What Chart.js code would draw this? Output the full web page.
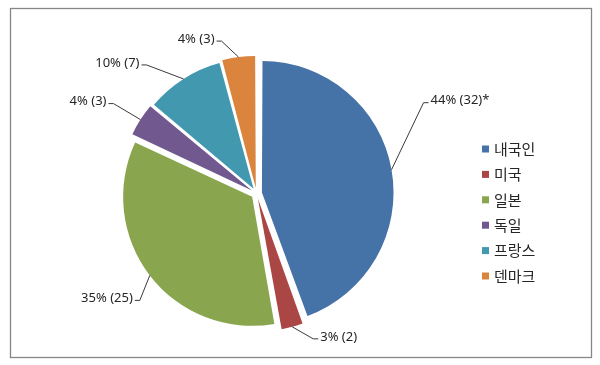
<!DOCTYPE html>
<html>
<head>
<meta charset="utf-8">
<script src="https://cdn.jsdelivr.net/npm/chart.js@4/dist/chart.umd.min.js"></script>
<style>
  html, body { margin: 0; padding: 0; background: #ffffff; }
  #wrap { width: 600px; height: 365px; }
</style>
</head>
<body>
<div id="wrap"><canvas id="c" width="600" height="365"></canvas></div>
<script>
// ---- data ----
const categories = ['내국인', '미국', '일본', '독일', '프랑스', '덴마크'];
const counts = [32, 2, 25, 3, 7, 3];
const notes = ['*', '', '', '', '', ''];
const colors = ['#4572A7', '#AA4643', '#89A54E', '#71588F', '#4198AF', '#DB843D'];

// ---- layout (label leader elbows relative to slice edge) ----
const leaderOffsets = [[32, -67], [21, 12], [-10, 25], [-27, -16], [-37, -14], [-17, -16]];
const sliceOffset = 22;    // chart.js v4 arc offset (translation = offset / 4)

function arcShift(circ) {
  const fix = 1 - Math.sin(Math.min(Math.PI, circ || 0));
  return 1 + fix;
}

const total = counts.reduce((a, b) => a + b, 0);

const framePlugin = {
  id: 'frame',
  beforeDraw(chart) {
    const ctx = chart.ctx;
    ctx.save();
    ctx.fillStyle = '#ffffff';
    ctx.fillRect(0, 0, chart.width, chart.height);
    ctx.strokeStyle = '#868686';
    ctx.lineWidth = 1.3;
    ctx.strokeRect(10.5, 8.5, 581, 349);
    ctx.restore();
  }
};

const labelPlugin = {
  id: 'sliceLabels',
  afterDatasetsDraw(chart) {
    const meta = chart.getDatasetMeta(0);
    const ctx = chart.ctx;
    ctx.save();
    ctx.font = '13px "Noto Sans", "Noto Sans CJK KR", sans-serif';
    ctx.fillStyle = '#262626';
    ctx.strokeStyle = '#3a3a3a';
    ctx.lineWidth = 1;
    meta.data.forEach((arc, i) => {
      const p = arc.getProps(['x', 'y', 'startAngle', 'endAngle', 'outerRadius', 'circumference'], true);
      const mid = (p.startAngle + p.endAngle) / 2;
      const shift = (arc.options.offset || 0) / 4 * arcShift(p.circumference);
      const px = p.x + Math.cos(mid) * (p.outerRadius + shift);
      const py = p.y + Math.sin(mid) * (p.outerRadius + shift);
      const [dx, dy] = leaderOffsets[i];
      const ex = px + dx, ey = py + dy;
      const side = dx >= 0 ? 1 : -1;
      const tx = ex + side * 5;
      ctx.beginPath();
      ctx.moveTo(px, py);
      ctx.lineTo(ex, ey);
      ctx.lineTo(tx, ey);
      ctx.stroke();
      const pct = Math.round(counts[i] / total * 100);
      const text = pct + '% (' + counts[i] + ')' + notes[i];
      ctx.textAlign = side > 0 ? 'left' : 'right';
      ctx.textBaseline = 'middle';
      ctx.fillText(text, tx + side * 2, ey - 2);
    });
    ctx.restore();
  }
};

const legendPlugin = {
  id: 'sideLegend',
  afterDraw(chart) {
    const ctx = chart.ctx;
    ctx.save();
    ctx.font = '15px "Noto Sans CJK KR", sans-serif';
    ctx.textBaseline = 'middle';
    ctx.textAlign = 'left';
    categories.forEach((name, i) => {
      const y = 149 + i * 25.4;
      ctx.fillStyle = colors[i];
      ctx.fillRect(482, y - 3.5, 7, 7);
      ctx.fillStyle = '#262626';
      ctx.fillText(name, 494, y);
    });
    ctx.restore();
  }
};

new Chart(document.getElementById('c'), {
  type: 'pie',
  data: {
    labels: categories,
    datasets: [{
      data: counts,
      backgroundColor: colors,
      borderWidth: 0,
      offset: sliceOffset
    }]
  },
  options: {
    responsive: false,
    animation: false,
    events: [],
    radius: 128,
    layout: { padding: { left: 0, right: 87, top: 22, bottom: 0 } },
    plugins: {
      legend: { display: false },
      tooltip: { enabled: false }
    }
  },
  plugins: [framePlugin, labelPlugin, legendPlugin]
});
</script>
</body>
</html>
